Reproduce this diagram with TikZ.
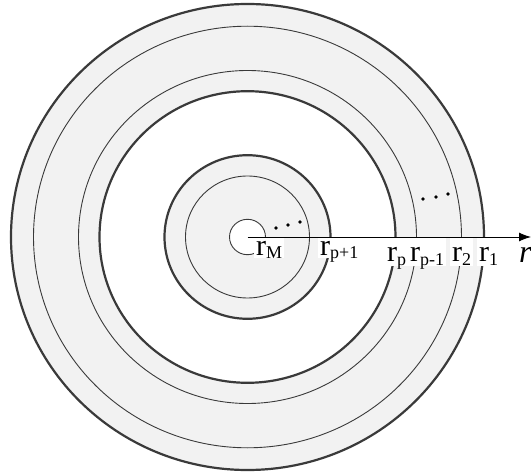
\documentclass[tikz,border=0pt]{standalone}
\usepackage{fontspec}
\setmainfont{Liberation Serif}
\usetikzlibrary{arrows.meta}
\definecolor{ringgray}{HTML}{F2F2F2}
\definecolor{edgegray}{HTML}{3A3A3A}
\newcommand{\rlab}[1]{{\fontsize{30}{30}\selectfont r}\raisebox{-3pt}{\fontsize{18}{18}\selectfont #1}}
\begin{document}
\begin{tikzpicture}[x=1pt,y=-1pt,
  thickring/.style={draw=edgegray,line width=2.2pt},
  thinring/.style={draw=edgegray,line width=0.9pt},
  lbl/.style={anchor=base west,fill=white,inner xsep=2pt,inner ysep=0pt},
  dotmark/.style={fill=black}]
\useasboundingbox (0,0) rectangle (531,476);
\coordinate (O) at (247.5,237);
\coordinate (E) at (531,237);
% fills
\fill[ringgray] (O) ellipse [x radius=236.5pt, y radius=233pt];
\fill[white] (O) ellipse [x radius=148pt, y radius=145.8pt];
\fill[ringgray] (O) ellipse [x radius=83pt, y radius=81.8pt];
\fill[white] (O) ellipse [x radius=18pt, y radius=17.7pt];
% rings
\draw[thickring] (O) ellipse [x radius=236.5pt, y radius=233pt];
\draw[thinring] (O) ellipse [x radius=214pt, y radius=210.8pt];
\draw[thinring] (O) ellipse [x radius=169pt, y radius=166.5pt];
\draw[thickring] (O) ellipse [x radius=148pt, y radius=145.8pt];
\draw[thickring] (O) ellipse [x radius=83pt, y radius=81.8pt];
\draw[thinring] (O) ellipse [x radius=62pt, y radius=61pt];
\draw[thinring] (O) ellipse [x radius=18pt, y radius=17.7pt];
% dots
\fill[dotmark] (276,228) circle (1.9pt);
\fill[dotmark] (288,225) circle (1.9pt);
\fill[dotmark] (300,222) circle (1.9pt);
\fill[dotmark] (423,199) circle (1.9pt);
\fill[dotmark] (436,197) circle (1.9pt);
\fill[dotmark] (448,194) circle (1.9pt);
% labels
\node[lbl,text height=18pt,text depth=2pt] (rM) at (254,256) {\rlab{M}};
\node[lbl,text height=18pt,text depth=2pt] (rp1) at (318,256) {\rlab{p+1}};
\node[lbl,text height=24pt,text depth=4pt] (rp) at (385,262) {\rlab{p}};
\node[lbl,text height=24pt,text depth=4pt] (rpm) at (408,262) {\rlab{p-1}};
\node[lbl,text height=24pt,text depth=4pt] (r2) at (450,262) {\rlab{2}};
\node[lbl,text height=24pt,text depth=4pt] (r1) at (477,262) {\rlab{1}};
\node[anchor=base west,inner sep=0pt] (rax) at (519,263) {\fontsize{32}{32}\selectfont\itshape r};
% axis
\draw[line width=0.9pt,-{Latex[length=12pt,width=9pt]}] (O) -- (E);
\end{tikzpicture}
\end{document}
